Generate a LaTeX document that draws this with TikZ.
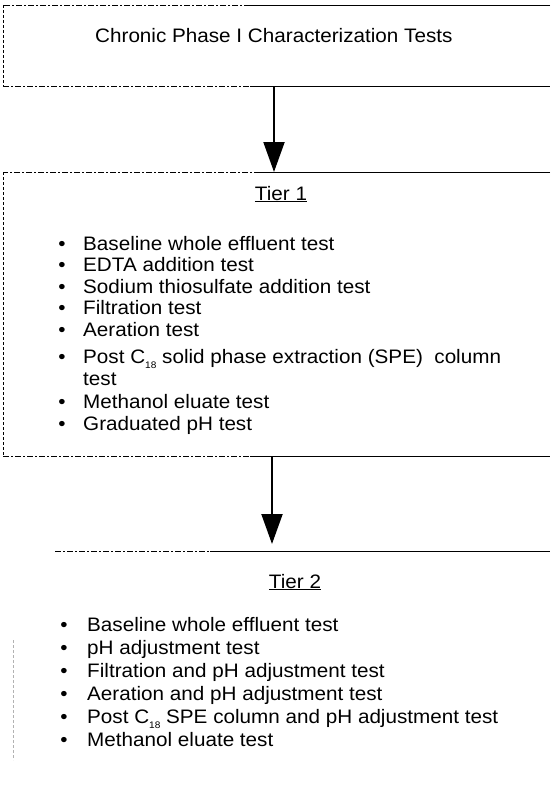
\documentclass[tikz,border=0pt]{standalone}
\usepackage{fontspec}
\setmainfont{Liberation Sans}[FakeStretch=1.06]
\usetikzlibrary{arrows.meta}
\newcommand\subeighteen{\raisebox{-5pt}{\fontsize{9.5}{9.5}\selectfont 18}}
\begin{document}
\begin{tikzpicture}[x=1pt,y=-1pt,
  txt/.style={anchor=base west,inner sep=0pt,font=\fontsize{19.5}{22}\selectfont},
  bul/.style={anchor=base,inner sep=0pt,font=\fontsize{19.5}{22}\selectfont},
  tier/.style={anchor=base,inner sep=0pt,font=\fontsize{19.5}{22}\selectfont},
  boxline/.style={line width=0.8pt},
  faintline/.style={line width=0.7pt,dash pattern=on 6pt off 2pt on 2pt off 2pt},
  edge/.style={line width=0.6pt,densely dashed},
  flow/.style={line width=2pt,-{Triangle[width=21pt,length=30pt]}}]
\useasboundingbox (0,0) rectangle (550,792);
% box 1
\draw[faintline] (250,5) -- (3,5);
\draw[boxline] (550,5) -- (250,5);
\draw[edge] (3,5) -- (3,86);
\draw[faintline] (3,86) -- (250,86);
\draw[boxline] (250,86) -- (550,86);
\node[txt] (title) at (95,43) {Chronic Phase I Characterization Tests};
% box 2
\draw[faintline] (260,172) -- (3,172);
\draw[boxline] (550,172) -- (260,172);
\draw[edge] (3,172) -- (3,456);
\draw[faintline] (3,456) -- (250,456);
\draw[boxline] (250,456) -- (550,456);
% box 3
\draw[faintline] (55,551) -- (210,551);
\draw[boxline] (210,551) -- (550,551);
\draw[edge,gray!60] (13,640) -- (13,760);
% arrows
\coordinate (a1s) at (274,86);
\coordinate (a1e) at (274,172);
\draw[flow] (a1s) -- (a1e);
\coordinate (a2s) at (272,456);
\coordinate (a2e) at (272,544);
\draw[flow] (a2s) -- (a2e);
% tier 1
\node[tier] (t1) at (281,200) {\underline{Tier 1}};
\foreach \y/\t [count=\i] in {250/Baseline whole effluent test,
  271.5/EDTA addition test,
  293/Sodium thiosulfate addition test,
  314.5/Filtration test,
  336/Aeration test,
  363/{Post C\subeighteen\ solid phase extraction (SPE)\ \ column},
  408/Methanol eluate test,
  430/Graduated pH test}{
  \node[bul] (p\i) at (62,\y) {•};
  \node[txt] (l\i) at (83,\y) {\t};
}
\node[txt] (l6b) at (83,385) {test};
% tier 2
\node[tier] (t2) at (295,588) {\underline{Tier 2}};
\foreach \y/\t [count=\i] in {631/Baseline whole effluent test,
  654/pH adjustment test,
  677/Filtration and pH adjustment test,
  700/Aeration and pH adjustment test,
  723/{Post C\subeighteen\ SPE column and pH adjustment test},
  746/Methanol eluate test}{
  \node[bul] (q\i) at (64,\y) {•};
  \node[txt] (m\i) at (87,\y) {\t};
}
\end{tikzpicture}
\end{document}
